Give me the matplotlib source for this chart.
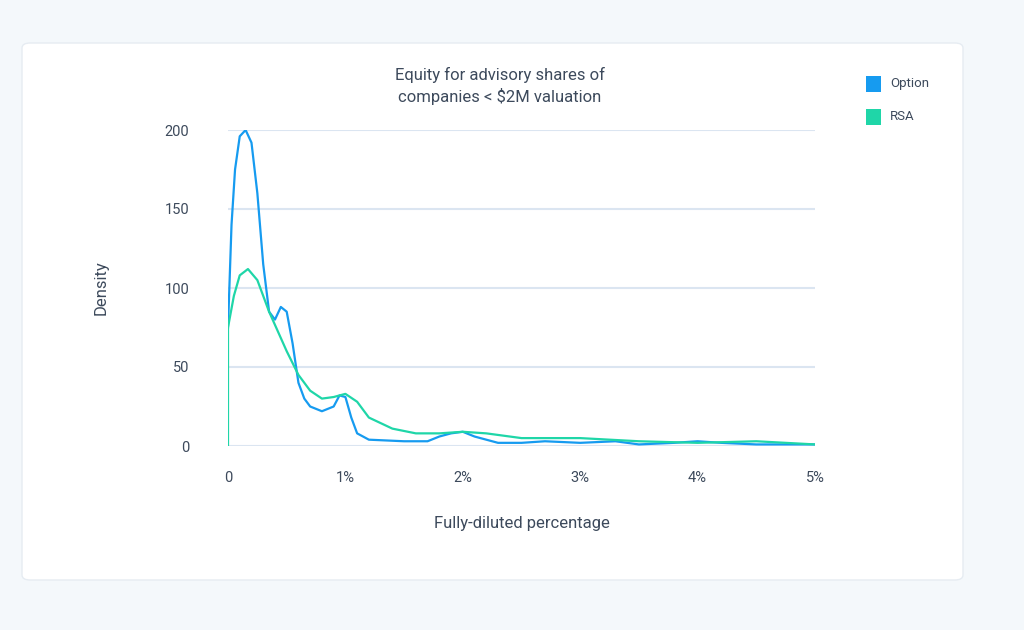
import matplotlib
matplotlib.use('Agg')
import matplotlib.pyplot as plt
from matplotlib.patches import FancyBboxPatch, Rectangle

option_x = [0, 0.03, 0.06, 0.1, 0.15, 0.2, 0.25, 0.3, 0.35, 0.4, 0.45, 0.5, 0.55, 0.6, 0.65, 0.7, 0.8,
            0.9, 0.95, 1.0, 1.05, 1.1, 1.2, 1.5, 1.7, 1.8, 1.9, 2.0, 2.1, 2.3, 2.5, 2.7, 3.0, 3.3, 3.5,
            3.8, 4.0, 4.2, 4.5, 5.0]
option_y = [75, 140, 175, 196, 200, 192, 160, 115, 85, 80, 88, 85, 65, 40, 30, 25, 22,
            25, 32, 31, 18, 8, 4, 3, 3, 6, 8, 9, 6, 2, 2, 3, 2, 3, 1,
            2, 3, 2, 1, 1]
rsa_x = [0, 0, 0.05, 0.1, 0.17, 0.25, 0.35, 0.5, 0.6, 0.7, 0.8, 0.9, 1.0, 1.1, 1.2, 1.4, 1.6,
         1.8, 2.0, 2.2, 2.5, 3.0, 3.5, 4.0, 4.5, 5.0]
rsa_y = [0, 75, 95, 108, 112, 105, 85, 60, 45, 35, 30, 31, 33, 28, 18, 11, 8,
         8, 9, 8, 5, 5, 3, 2, 3, 1]
x_ticks = [0, 1, 2, 3, 4, 5]
x_labels = ['0', '1%', '2%', '3%', '4%', '5%']
y_ticks = [0, 50, 100, 150, 200]

plt.rcParams['font.family'] = 'Roboto'
text_c = '#3d4a5c'
fig = plt.figure(figsize=(10.24, 6.3), dpi=100)
fig.patch.set_facecolor('#f4f8fb')
fig.patches.append(FancyBboxPatch((22/1024, 50/630), 941/1024, 537/630, boxstyle='round,pad=0,rounding_size=0.008',
                                  transform=fig.transFigure, facecolor='white', edgecolor='#e6ecf2', zorder=-5))

ax = fig.add_axes([228/1024, 1 - 446/630, 587/1024, 316/630])
ax.set_facecolor('none')
ax.plot(option_x, option_y, color='#169bf0', lw=1.6)
ax.plot(rsa_x, rsa_y, color='#1fd6a8', lw=1.6)
ax.set_xlim(0, 5.0)
ax.set_ylim(0, 200)
ax.set_xticks(x_ticks)
ax.set_xticklabels(x_labels)
ax.set_yticks(y_ticks)
ax.grid(axis='y', color='#dbe5f1', lw=1.5)
ax.set_axisbelow(True)
for s in ax.spines.values():
    s.set_visible(False)
ax.tick_params(length=0, colors=text_c, labelsize=10.5)
ax.tick_params(axis='x', pad=18)
ax.tick_params(axis='y', pad=28)
ax.set_xlabel('Fully-diluted percentage', fontsize=12, color=text_c, labelpad=22)
ax.set_ylabel('Density', fontsize=12, color=text_c, labelpad=40)
fig.text(500/1024, 1 - 86/630, 'Equity for advisory shares of\ncompanies < $2M valuation',
         ha='center', va='center', fontsize=12, color=text_c, linespacing=1.4)

for y, c, lab in [(84, '#169bf0', 'Option'), (117, '#1fd6a8', 'RSA')]:
    fig.patches.append(Rectangle((866/1024, 1 - (y + 8)/630), 15/1024, 16/630, transform=fig.transFigure,
                                 facecolor=c))
    fig.text(890/1024, 1 - y/630, lab, va='center', fontsize=9.5, color=text_c)

fig.savefig('out.png', dpi=100, facecolor=fig.get_facecolor())
